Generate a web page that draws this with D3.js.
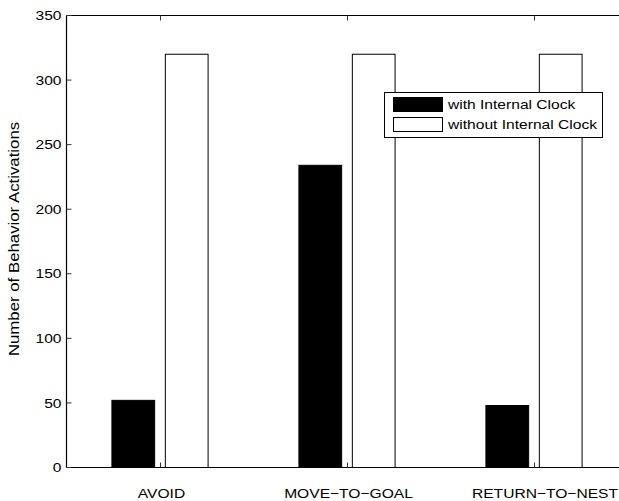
<!DOCTYPE html>
<html>
<head>
<meta charset="utf-8">
<script src="https://cdn.jsdelivr.net/npm/d3@7"></script>
<style>
  html, body { margin: 0; padding: 0; background: #fff; overflow: hidden; }
  svg { display: block; overflow: hidden; }
  text { font-family: "Liberation Sans", Arial, sans-serif; fill: #000; }
</style>
</head>
<body>
<svg id="chart" width="619" height="501"></svg>
<script>
// Behaviour activation counts per behaviour, with and without the internal clock
const categories = ["AVOID", "MOVE\u2212TO\u2212GOAL", "RETURN\u2212TO\u2212NEST"];
const withClock = [52, 234, 48];
const withoutClock = [320, 320, 320];
const seriesNames = ["with Internal Clock", "without Internal Clock"];
const yTicks = [0, 50, 100, 150, 200, 250, 300, 350];

const W = 619, H = 501;
const svg = d3.select("#chart");

// Everything is clipped to the figure area; the axes run off its right edge
svg.append("defs").append("clipPath").attr("id", "fig")
  .append("rect").attr("x", 0).attr("y", 0).attr("width", W).attr("height", H);
const root = svg.append("g").attr("clip-path", "url(#fig)");

const axLeft = 66.5, axRight = 627.5, axTop = 15.5, axBottom = 467.5;

const x = d3.scaleLinear().domain([0.5, categories.length + 0.5]).range([axLeft, axRight]);
const y = d3.scaleLinear().domain([0, 350]).range([axBottom, axTop]);

// Grouped bar geometry: two bars per group
const groupWidth = Math.min(0.8, 2 / (2 + 1.5));
const barW = groupWidth / 2 * 0.8;
const offsets = [-groupWidth / 4, groupWidth / 4];

const series = [
  { name: seriesNames[0], values: withClock, fill: "#000" },
  { name: seriesNames[1], values: withoutClock, fill: "#fff" }
];

const stretch = 1.2;   // wide rendering of the sans-serif face

// Bars
series.forEach((s, si) => {
  root.append("g").selectAll("rect")
    .data(s.values)
    .join("rect")
    .attr("x", (d, i) => x(i + 1 + offsets[si] - barW / 2))
    .attr("width", x(barW) - x(0))
    .attr("y", d => y(d))
    .attr("height", d => y(0) - y(d))
    .attr("fill", s.fill)
    .attr("stroke", "#000")
    .attr("stroke-width", 1);
});

// Axis lines: left, bottom and top (the right side lies beyond the figure)
const box = root.append("g").attr("fill", "none").attr("stroke", "#000").attr("stroke-width", 1.2);
box.append("line").attr("x1", axLeft).attr("x2", W + 2).attr("y1", axBottom).attr("y2", axBottom);
box.append("line").attr("x1", axLeft).attr("x2", W + 2).attr("y1", axTop).attr("y2", axTop);
box.append("line").attr("x1", axLeft).attr("x2", axLeft).attr("y1", axTop).attr("y2", axBottom);

// Inward tick marks
const tickLen = 5;
const ticks = root.append("g").attr("stroke", "#333").attr("stroke-width", 1);
yTicks.forEach(t => {
  ticks.append("line").attr("x1", axLeft).attr("x2", axLeft + tickLen).attr("y1", y(t)).attr("y2", y(t));
});
categories.forEach((c, i) => {
  const cx = Math.round(x(i + 1)) + 0.5;
  ticks.append("line").attr("x1", cx).attr("x2", cx).attr("y1", axBottom).attr("y2", axBottom - tickLen);
  ticks.append("line").attr("x1", cx).attr("x2", cx).attr("y1", axTop).attr("y2", axTop + tickLen);
});

// Helper: stretched text placed at (px, py)
function label(px, py, str, anchor, size, rot) {
  const g = root.append("g")
    .attr("transform", `translate(${px},${py})` + (rot ? ` rotate(${rot})` : "") + ` scale(${stretch},1)`);
  g.append("text")
    .attr("text-anchor", anchor)
    .attr("font-size", size)
    .text(str);
  return g;
}

// Y tick labels
yTicks.forEach(t => label(axLeft - 5, y(t) + 4.7, String(t), "end", 13));

// Category labels; the last one sits nudged toward the clipped edge
categories.forEach((c, i) => {
  const nudge = i === categories.length - 1 ? 11 : 1.5;
  label(x(i + 1) + nudge, 497.5, c, "middle", 13);
});

// Y axis title
label(19, 239, "Number of Behavior Activations", "middle", 14, -90);

// Legend
const lg = root.append("g");
lg.append("rect").attr("x", 384.5).attr("y", 92.5).attr("width", 218).attr("height", 45)
  .attr("fill", "#fff").attr("stroke", "#000").attr("stroke-width", 1);
series.forEach((s, si) => {
  const ry = 97.5 + si * 20;
  lg.append("rect").attr("x", 393.5).attr("y", ry).attr("width", 49).attr("height", 14)
    .attr("fill", s.fill).attr("stroke", "#000").attr("stroke-width", 1);
  label(448, ry + 11.8, s.name, "start", 13);
});
</script>
</body>
</html>
